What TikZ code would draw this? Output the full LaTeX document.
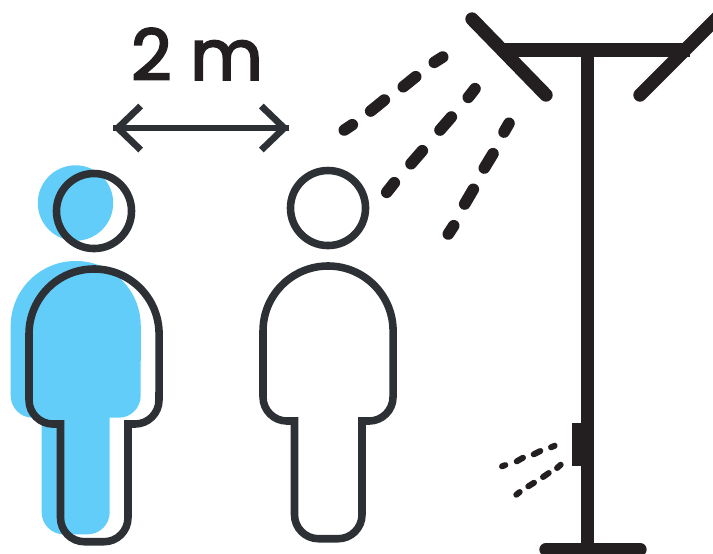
\documentclass[tikz,border=0pt]{standalone}
\usepackage{xcolor}
\usepackage{fontspec}
\usetikzlibrary{arrows.meta}
\newfontfamily\labelfont[FakeBold=3]{Poppins}
\definecolor{skyblue}{HTML}{62CDF8}
\definecolor{slate}{HTML}{2D3136}
\definecolor{pole}{HTML}{231F20}

\begin{document}
\begin{tikzpicture}[
  x=0.01cm, y=-0.01cm,
  outline/.style={draw=slate, line width=2.15pt},
  shade/.style={fill=skyblue},
  gap/.style={-{Straight Barb[length=6.5pt,width=12.5pt]}, draw=slate, line width=1.9pt},
  post/.style={draw=pole, line width=3.8pt},
  jet/.style={draw=pole, line width=3.3pt, line cap=round},
  mist/.style={draw=pole, line width=1.7pt, line cap=round}
]
\clip (0,0) rectangle (713,553);
\useasboundingbox (0,0) rectangle (713,553);

% blue shadow of the left person
\fill[shade] (75.5,203) circle[radius=0.377cm];
\fill[shade] (41.7,417.7) [rounded corners=0.22cm] -- (10.7,417.7) [sharp corners] -- (10.7,326)
  arc[start angle=180, end angle=0, radius=0.65cm] [rounded corners=0.22cm] -- (140.7,417.7) [sharp corners] -- (109.7,417.7)
  [rounded corners=0.22cm] -- (109.7,534.3) -- (41.7,534.3) [sharp corners] -- cycle;

% the two people
\foreach \x/\y in {0/0, 234/-3}{
  \draw[outline] (94+\x,211+\y) circle[radius=0.375cm];
  \draw[outline] (60.5+\x,424+\y) [rounded corners=0.24cm] -- (29+\x,424+\y) [sharp corners] -- (29+\x,334+\y)
    arc[start angle=180, end angle=0, radius=0.65cm] [rounded corners=0.24cm] -- (159+\x,424+\y) [sharp corners] -- (128+\x,424+\y)
    [rounded corners=0.24cm] -- (128+\x,541.7+\y) -- (60.5+\x,541.7+\y) [sharp corners] -- cycle;
}

% distance
\coordinate (gapL) at (113,128);
\coordinate (gapR) at (289,128);
\draw[gap] (gapL) -- (gapR);
\draw[gap] (gapR) -- (gapL);
\node[text=pole, font=\labelfont\fontsize{20}{24}\selectfont] (dist) at (197,54) {2 m};

% pole
\draw[post] (587.5,50) -- (587.5,549);
\draw[post] (500,50) -- (690,50);
\draw[post, line cap=round] (472,19) -- (546,95);
\draw[post, line cap=round] (640,95) -- (720,15);
\draw[post, line cap=round] (546,549.5) -- (640,549.5);
\fill[pole] (572,423) rectangle (582,466);

% big spray
\foreach \xa/\ya/\xb/\yb in {344.3/130/352.3/124.7, 370.7/111/384.3/100, 403.3/86.7/415.7/76.7, 434.3/62.3/442.7/57,
  386.7/192.3/394.3/182.7, 411/163.7/422.3/150.7, 440/130/451.3/117, 468.3/97.3/475/88.7,
  448.3/234/453.7/225.7, 464.7/204/473.3/189.3, 484.3/168/493/153.7, 504/132/509/123.3}{
  \draw[jet] (\xa,\ya) -- (\xb,\yb);
}

% small spray
\foreach \xa/\ya/\xb/\yb in {502/466.3/505.3/465, 516.7/461.3/523/457.7, 533.7/454.3/540.3/451, 551/447.3/554.7/445.7,
  516.3/494.7/519.7/492, 528.3/486.3/534/482.7, 543/477/548.7/473, 557/468/560.7/464.7}{
  \draw[mist] (\xa,\ya) -- (\xb,\yb);
}

\end{tikzpicture}
\end{document}
